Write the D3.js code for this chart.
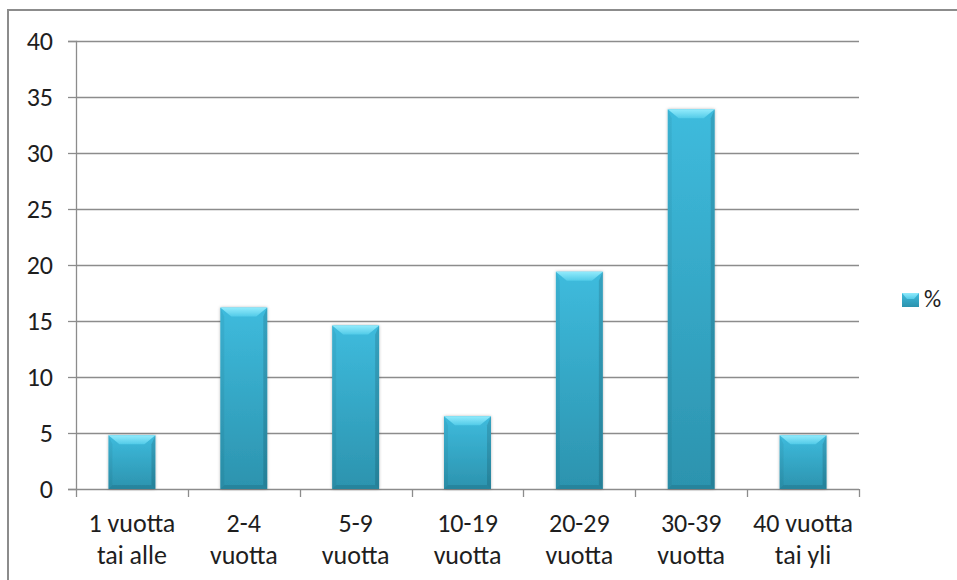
<!DOCTYPE html>
<html>
<head>
<meta charset="utf-8">
<script src="https://cdn.jsdelivr.net/npm/d3@7"></script>
<style>
  html, body { margin: 0; padding: 0; background: #fff; }
  svg { display: block; }
  text { font-family: Carlito, Calibri, Lato, "Open Sans", sans-serif; fill: #1e1e1e; }
</style>
</head>
<body>
<svg id="chart" width="957" height="580"></svg>
<script>
// Time spans (years) and share of respondents in each (%)
const categories = [
  ["1 vuotta", "tai alle"],
  ["2-4", "vuotta"],
  ["5-9", "vuotta"],
  ["10-19", "vuotta"],
  ["20-29", "vuotta"],
  ["30-39", "vuotta"],
  ["40 vuotta", "tai yli"]
];
const values = [4.8, 16.2, 14.6, 6.5, 19.4, 33.9, 4.8];
const yTicks = [0, 5, 10, 15, 20, 25, 30, 35, 40];
const seriesName = "%";

const svg = d3.select("#chart");
const plot = { left: 76, right: 859, top: 41, bottom: 489 };
const fontFamily = "Carlito, Calibri, Lato, 'Open Sans', sans-serif";

const keys = categories.map((c, i) => i);
const x = d3.scaleBand().domain(keys)
  .range([plot.left, plot.right])
  .paddingInner(0.58).paddingOuter(0.29);
const y = d3.scaleLinear().domain([0, 40]).range([plot.bottom, plot.top]);

// Outer frame of the chart area
svg.append("rect")
  .attr("x", 8).attr("y", 10).attr("width", 1000).attr("height", 1000)
  .attr("fill", "none").attr("stroke", "#8c8c8c").attr("stroke-width", 2);

const defs = svg.append("defs");
const body = defs.append("linearGradient").attr("id", "barBody")
  .attr("x1", 0).attr("y1", 0).attr("x2", 0).attr("y2", 1);
body.append("stop").attr("offset", 0).attr("stop-color", "#3ebbdd");
body.append("stop").attr("offset", 1).attr("stop-color", "#2c93ae");

const topFacet = defs.append("linearGradient").attr("id", "topFacet")
  .attr("x1", 0).attr("y1", 0).attr("x2", 0).attr("y2", 1);
topFacet.append("stop").attr("offset", 0).attr("stop-color", "#92ebfc");
topFacet.append("stop").attr("offset", 1).attr("stop-color", "#52cbe8");

const shadow = defs.append("filter").attr("id", "barShadow")
  .attr("x", "-30%").attr("y", "-10%").attr("width", "160%").attr("height", "120%");
shadow.append("feDropShadow").attr("dx", 0).attr("dy", 0)
  .attr("stdDeviation", 1.6).attr("flood-color", "#000").attr("flood-opacity", 0.28);

// Value axis with tick stubs
const yAxis = d3.axisLeft(y).tickValues(yTicks).tickSize(8).tickPadding(14);
const gy = svg.append("g").attr("transform", `translate(${plot.left},0)`).call(yAxis);
gy.select(".domain").attr("stroke", "#8c8c8c").attr("stroke-width", 1.3);
gy.selectAll(".tick line").attr("stroke", "#8c8c8c").attr("stroke-width", 1.3);
gy.selectAll(".tick text")
  .attr("font-size", 26).attr("fill", "#1e1e1e")
  .attr("x", -23)
  .style("font-family", fontFamily);

// Horizontal gridlines
svg.append("g").selectAll("line")
  .data(yTicks.filter(t => t > 0))
  .join("line")
  .attr("x1", plot.left).attr("x2", plot.right)
  .attr("y1", d => Math.round(y(d)) + 0.5).attr("y2", d => Math.round(y(d)) + 0.5)
  .attr("stroke", "#8c8c8c").attr("stroke-width", 1.3);

// Category axis with tick marks at band boundaries
const step = x.step();
const boundaries = d3.range(categories.length + 1).map(i => plot.left + i * step);
svg.append("line")
  .attr("x1", plot.left).attr("x2", plot.right)
  .attr("y1", plot.bottom + 0.5).attr("y2", plot.bottom + 0.5)
  .attr("stroke", "#8c8c8c").attr("stroke-width", 1.3);
svg.append("g").selectAll("line").data(boundaries).join("line")
  .attr("x1", d => Math.round(d) + 0.5).attr("x2", d => Math.round(d) + 0.5)
  .attr("y1", plot.bottom).attr("y2", plot.bottom + 8)
  .attr("stroke", "#8c8c8c").attr("stroke-width", 1.3);

const labels = svg.append("g").selectAll("text").data(categories).join("text")
  .attr("text-anchor", "middle")
  .attr("font-size", 26)
  .attr("x", (d, i) => x(i) + x.bandwidth() / 2)
  .attr("y", 532);
labels.selectAll("tspan").data(d => d).join("tspan")
  .attr("x", function () { return d3.select(this.parentNode).attr("x"); })
  .attr("dy", (d, i) => i === 0 ? 0 : 32)
  .text(d => d);

// Bevelled bars
const bev = 9;
const bars = svg.append("g").selectAll("g").data(values).join("g")
  .attr("filter", "url(#barShadow)");
bars.each(function (v, i) {
  const g = d3.select(this);
  const x0 = x(i), w = x.bandwidth(), x1 = x0 + w;
  const yTop = y(v), yBot = y(0);
  g.append("rect").attr("x", x0).attr("y", yTop).attr("width", w).attr("height", yBot - yTop)
    .attr("fill", "url(#barBody)");
  // left facet
  g.append("path")
    .attr("d", `M${x0},${yTop} L${x0 + 4},${yTop + bev} L${x0 + 4},${yBot - 4} L${x0},${yBot} Z`)
    .attr("fill", "#000").attr("opacity", 0.05);
  // right facet
  g.append("path")
    .attr("d", `M${x1},${yTop} L${x1 - 4},${yTop + bev} L${x1 - 4},${yBot - 4} L${x1},${yBot} Z`)
    .attr("fill", "#000").attr("opacity", 0.13);
  // bottom facet
  g.append("path")
    .attr("d", `M${x0},${yBot} L${x0 + 4},${yBot - 4} L${x1 - 4},${yBot - 4} L${x1},${yBot} Z`)
    .attr("fill", "#000").attr("opacity", 0.1);
  // top facet
  g.append("path")
    .attr("d", `M${x0},${yTop} L${x1},${yTop} L${x1 - 11},${yTop + bev} L${x0 + 11},${yTop + bev} Z`)
    .attr("fill", "url(#topFacet)");
});

// Legend
const legend = svg.append("g").attr("transform", "translate(902,293)");
legend.append("rect").attr("width", 17).attr("height", 14).attr("fill", "url(#barBody)");
legend.append("path").attr("d", "M0,0 L17,0 L12,6 L5,6 Z").attr("fill", "url(#topFacet)");
legend.append("text").attr("x", 22).attr("y", 14).attr("font-size", 24).text(seriesName);
</script>
</body>
</html>
